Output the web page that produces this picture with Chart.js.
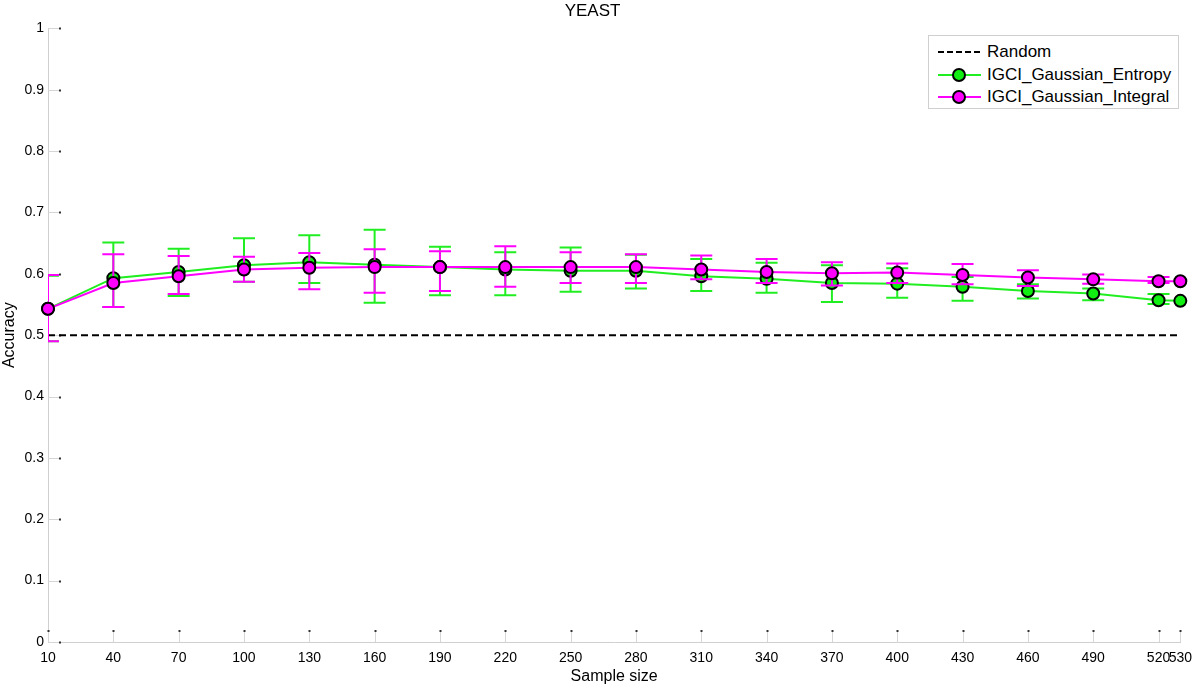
<!DOCTYPE html>
<html>
<head>
<meta charset="utf-8">
<title>YEAST</title>
<script src="https://cdn.jsdelivr.net/npm/chart.js@4.4.0/dist/chart.umd.min.js"></script>
<style>
    html, body { margin: 0; padding: 0; background: #fff; }
    #wrap { position: relative; width: 1200px; height: 686px; }
    #legend {
        position: absolute; left: 928px; top: 35px; width: 249px; height: 72px;
        border: 1px solid #cfcfcf; background: #fff;
        font-family: "Liberation Sans", Arial, sans-serif; font-size: 17px; color: #000;
    }
    .row { position: absolute; left: 0; width: 100%; height: 20px; line-height: 20px; }
    .sample { position: absolute; left: 9px; top: 9px; width: 43px; height: 2px; }
    .dot { position: absolute; left: 14px; top: -6px; width: 10px; height: 10px; border-radius: 50%; border: 2px solid #000; }
    .label { position: absolute; left: 58px; white-space: nowrap; }
</style>
</head>
<body>
<div id="wrap">
    <canvas id="myChart" width="1200" height="686"></canvas>
    <div id="legend">
        <div class="row" style="top:6px">
            <span class="sample" style="background:repeating-linear-gradient(to right,#000 0 6px,transparent 6px 9px)"></span>
            <span class="label">Random</span>
        </div>
        <div class="row" style="top:29px">
            <span class="sample" style="background:#20ee20"><span class="dot" style="background:#11ee11"></span></span>
            <span class="label">IGCI_Gaussian_Entropy</span>
        </div>
        <div class="row" style="top:51px">
            <span class="sample" style="background:#ff00ff"><span class="dot" style="background:#ff00ff"></span></span>
            <span class="label">IGCI_Gaussian_Integral</span>
        </div>
    </div>
</div>
<script>
// sample sizes (x) and tick positions
const sampleSizes = [10, 40, 70, 100, 130, 160, 190, 220, 250, 280, 310, 340, 370, 400, 430, 460, 490, 520, 530];
const xTicks = [10, 40, 70, 100, 130, 160, 190, 220, 250, 280, 310, 340, 370, 400, 430, 460, 490, 520, 530];
const yTicks = [0, 0.1, 0.2, 0.3, 0.4, 0.5, 0.6, 0.7, 0.8, 0.9, 1];

// random baseline
const randomX = [10, 530];
const randomY = [0.5, 0.5];

// IGCI_Gaussian_Entropy: mean and error bar ends
const entropyMean = [0.543, 0.593, 0.603, 0.614, 0.619, 0.615, 0.611, 0.607, 0.605, 0.605, 0.596, 0.592, 0.585, 0.584, 0.579, 0.572, 0.568, 0.557, 0.556];
const entropyLow  = [0.490, 0.546, 0.564, 0.587, 0.585, 0.553, 0.565, 0.565, 0.571, 0.576, 0.572, 0.569, 0.554, 0.561, 0.556, 0.560, 0.557, 0.551, null];
const entropyHigh = [0.597, 0.651, 0.641, 0.658, 0.663, 0.672, 0.644, 0.635, 0.643, 0.631, 0.624, 0.618, 0.614, 0.609, 0.595, 0.583, 0.576, 0.567, null];

// IGCI_Gaussian_Integral: mean and error bar ends
const integralMean = [0.543, 0.585, 0.596, 0.607, 0.610, 0.611, 0.611, 0.611, 0.611, 0.611, 0.607, 0.603, 0.601, 0.602, 0.598, 0.594, 0.591, 0.588, 0.588];
const integralLow  = [0.490, 0.546, 0.567, 0.587, 0.575, 0.569, 0.572, 0.579, 0.585, 0.585, 0.591, 0.585, 0.581, 0.585, 0.583, 0.580, 0.584, 0.585, null];
const integralHigh = [0.598, 0.632, 0.629, 0.628, 0.634, 0.640, 0.637, 0.645, 0.635, 0.632, 0.630, 0.624, 0.619, 0.617, 0.616, 0.606, 0.599, 0.595, null];

const GREEN = '#20ee20';
const MAGENTA = '#ff00ff';
const FONT = '"Liberation Sans", Arial, sans-serif';

const toPoints = (xs, ys) => xs.map((x, i) => ({ x: x, y: ys[i] }));

// error bars, drawn just before each dataset so the line and markers sit on top
const errorBars = {
    id: 'errorBars',
    beforeDatasetDraw(chart, args) {
        const ds = chart.data.datasets[args.index];
        if (!ds.errLow) return;
        const { ctx, chartArea, scales } = chart;
        const cap = 11;
        ctx.save();
        ctx.beginPath();
        ctx.rect(chartArea.left, chartArea.top, chartArea.right - chartArea.left, chartArea.bottom - chartArea.top);
        ctx.clip();
        ctx.strokeStyle = ds.borderColor;
        ctx.lineWidth = 2;
        ds.data.forEach((p, i) => {
            const lo = ds.errLow[i], hi = ds.errHigh[i];
            if (lo == null || hi == null) return;
            const px = scales.x.getPixelForValue(p.x);
            const yl = scales.y.getPixelForValue(lo);
            const yh = scales.y.getPixelForValue(hi);
            ctx.beginPath();
            ctx.moveTo(px, yl); ctx.lineTo(px, yh);
            ctx.moveTo(px - cap, yl); ctx.lineTo(px + cap, yl);
            ctx.moveTo(px - cap, yh); ctx.lineTo(px + cap, yh);
            ctx.stroke();
        });
        ctx.restore();
    }
};

// small inward tick marks like the matlab axes
const innerTicks = {
    id: 'innerTicks',
    beforeDatasetsDraw(chart) {
        const { ctx, chartArea, scales } = chart;
        ctx.save();
        ctx.strokeStyle = '#d6d6d6';
        ctx.lineWidth = 1;
        ctx.fillStyle = '#333';
        xTicks.forEach((v) => {
            const px = Math.round(scales.x.getPixelForValue(v)) + 0.5;
            ctx.beginPath();
            ctx.moveTo(px, chartArea.bottom);
            ctx.lineTo(px, chartArea.bottom - 12);
            ctx.stroke();
            ctx.fillRect(px - 1, chartArea.bottom - 12, 2, 2);
        });
        yTicks.forEach((v) => {
            const py = Math.round(scales.y.getPixelForValue(v)) + 0.5;
            ctx.beginPath();
            ctx.moveTo(chartArea.left, py);
            ctx.lineTo(chartArea.left + 12, py);
            ctx.stroke();
            ctx.fillRect(chartArea.left + 11, py - 1, 2, 2);
        });
        ctx.restore();
    }
};

const ctx = document.getElementById('myChart').getContext('2d');

const config = {
    type: 'line',
    data: {
        datasets: [
            {
                label: 'Random',
                data: toPoints(randomX, randomY),
                borderColor: '#000',
                borderWidth: 2,
                borderDash: [7, 4],
                pointRadius: 0,
                order: 3,
            },
            {
                label: 'IGCI_Gaussian_Entropy',
                data: toPoints(sampleSizes, entropyMean),
                errLow: entropyLow,
                errHigh: entropyHigh,
                borderColor: GREEN,
                backgroundColor: '#11ee11',
                borderWidth: 2,
                pointRadius: 6,
                pointBorderWidth: 2,
                pointBorderColor: '#000',
                pointBackgroundColor: '#11ee11',
                clip: false,
                order: 2,
            },
            {
                label: 'IGCI_Gaussian_Integral',
                data: toPoints(sampleSizes, integralMean),
                errLow: integralLow,
                errHigh: integralHigh,
                borderColor: MAGENTA,
                backgroundColor: MAGENTA,
                borderWidth: 2,
                pointRadius: 6,
                pointBorderWidth: 2,
                pointBorderColor: '#000',
                pointBackgroundColor: MAGENTA,
                clip: false,
                order: 1,
            },
        ],
    },
    options: {
        responsive: false,
        animation: false,
        tension: 0,
        layout: { padding: { left: 0, right: 15, top: 0, bottom: 0 } },
        plugins: {
            legend: { display: false },
            tooltip: { enabled: false },
            title: {
                display: true,
                text: 'YEAST',
                color: '#000',
                font: { family: FONT, size: 17, weight: 'normal' },
                padding: { top: 1, bottom: 7 },
            },
        },
        scales: {
            x: {
                type: 'linear',
                min: 10,
                max: 530,
                afterBuildTicks: (scale) => { scale.ticks = xTicks.map((v) => ({ value: v })); },
                afterFit: (scale) => { scale.height = 44; },
                ticks: {
                    color: '#000',
                    font: { family: FONT, size: 14 },
                    padding: 8,
                    maxRotation: 0,
                    autoSkip: false,
                    callback: (v) => String(v),
                },
                grid: { drawOnChartArea: false, drawTicks: false },
                border: { display: true, color: '#cfcfcf', width: 1 },
                title: {
                    display: true,
                    text: 'Sample size',
                    color: '#000',
                    font: { family: FONT, size: 16 },
                    padding: 0,
                },
            },
            y: {
                min: 0,
                max: 1,
                afterBuildTicks: (scale) => { scale.ticks = yTicks.map((v) => ({ value: v })); },
                afterFit: (scale) => { scale.width = 48; },
                ticks: {
                    color: '#000',
                    font: { family: FONT, size: 14 },
                    padding: 4,
                    callback: (v) => String(+v.toFixed(1)),
                },
                grid: { drawOnChartArea: false, drawTicks: false },
                border: { display: true, color: '#cfcfcf', width: 1 },
                title: {
                    display: true,
                    text: 'Accuracy',
                    color: '#000',
                    font: { family: FONT, size: 16 },
                    padding: 0,
                },
            },
        },
    },
    plugins: [innerTicks, errorBars],
};

const myChart = new Chart(ctx, config);
</script>
</body>
</html>
